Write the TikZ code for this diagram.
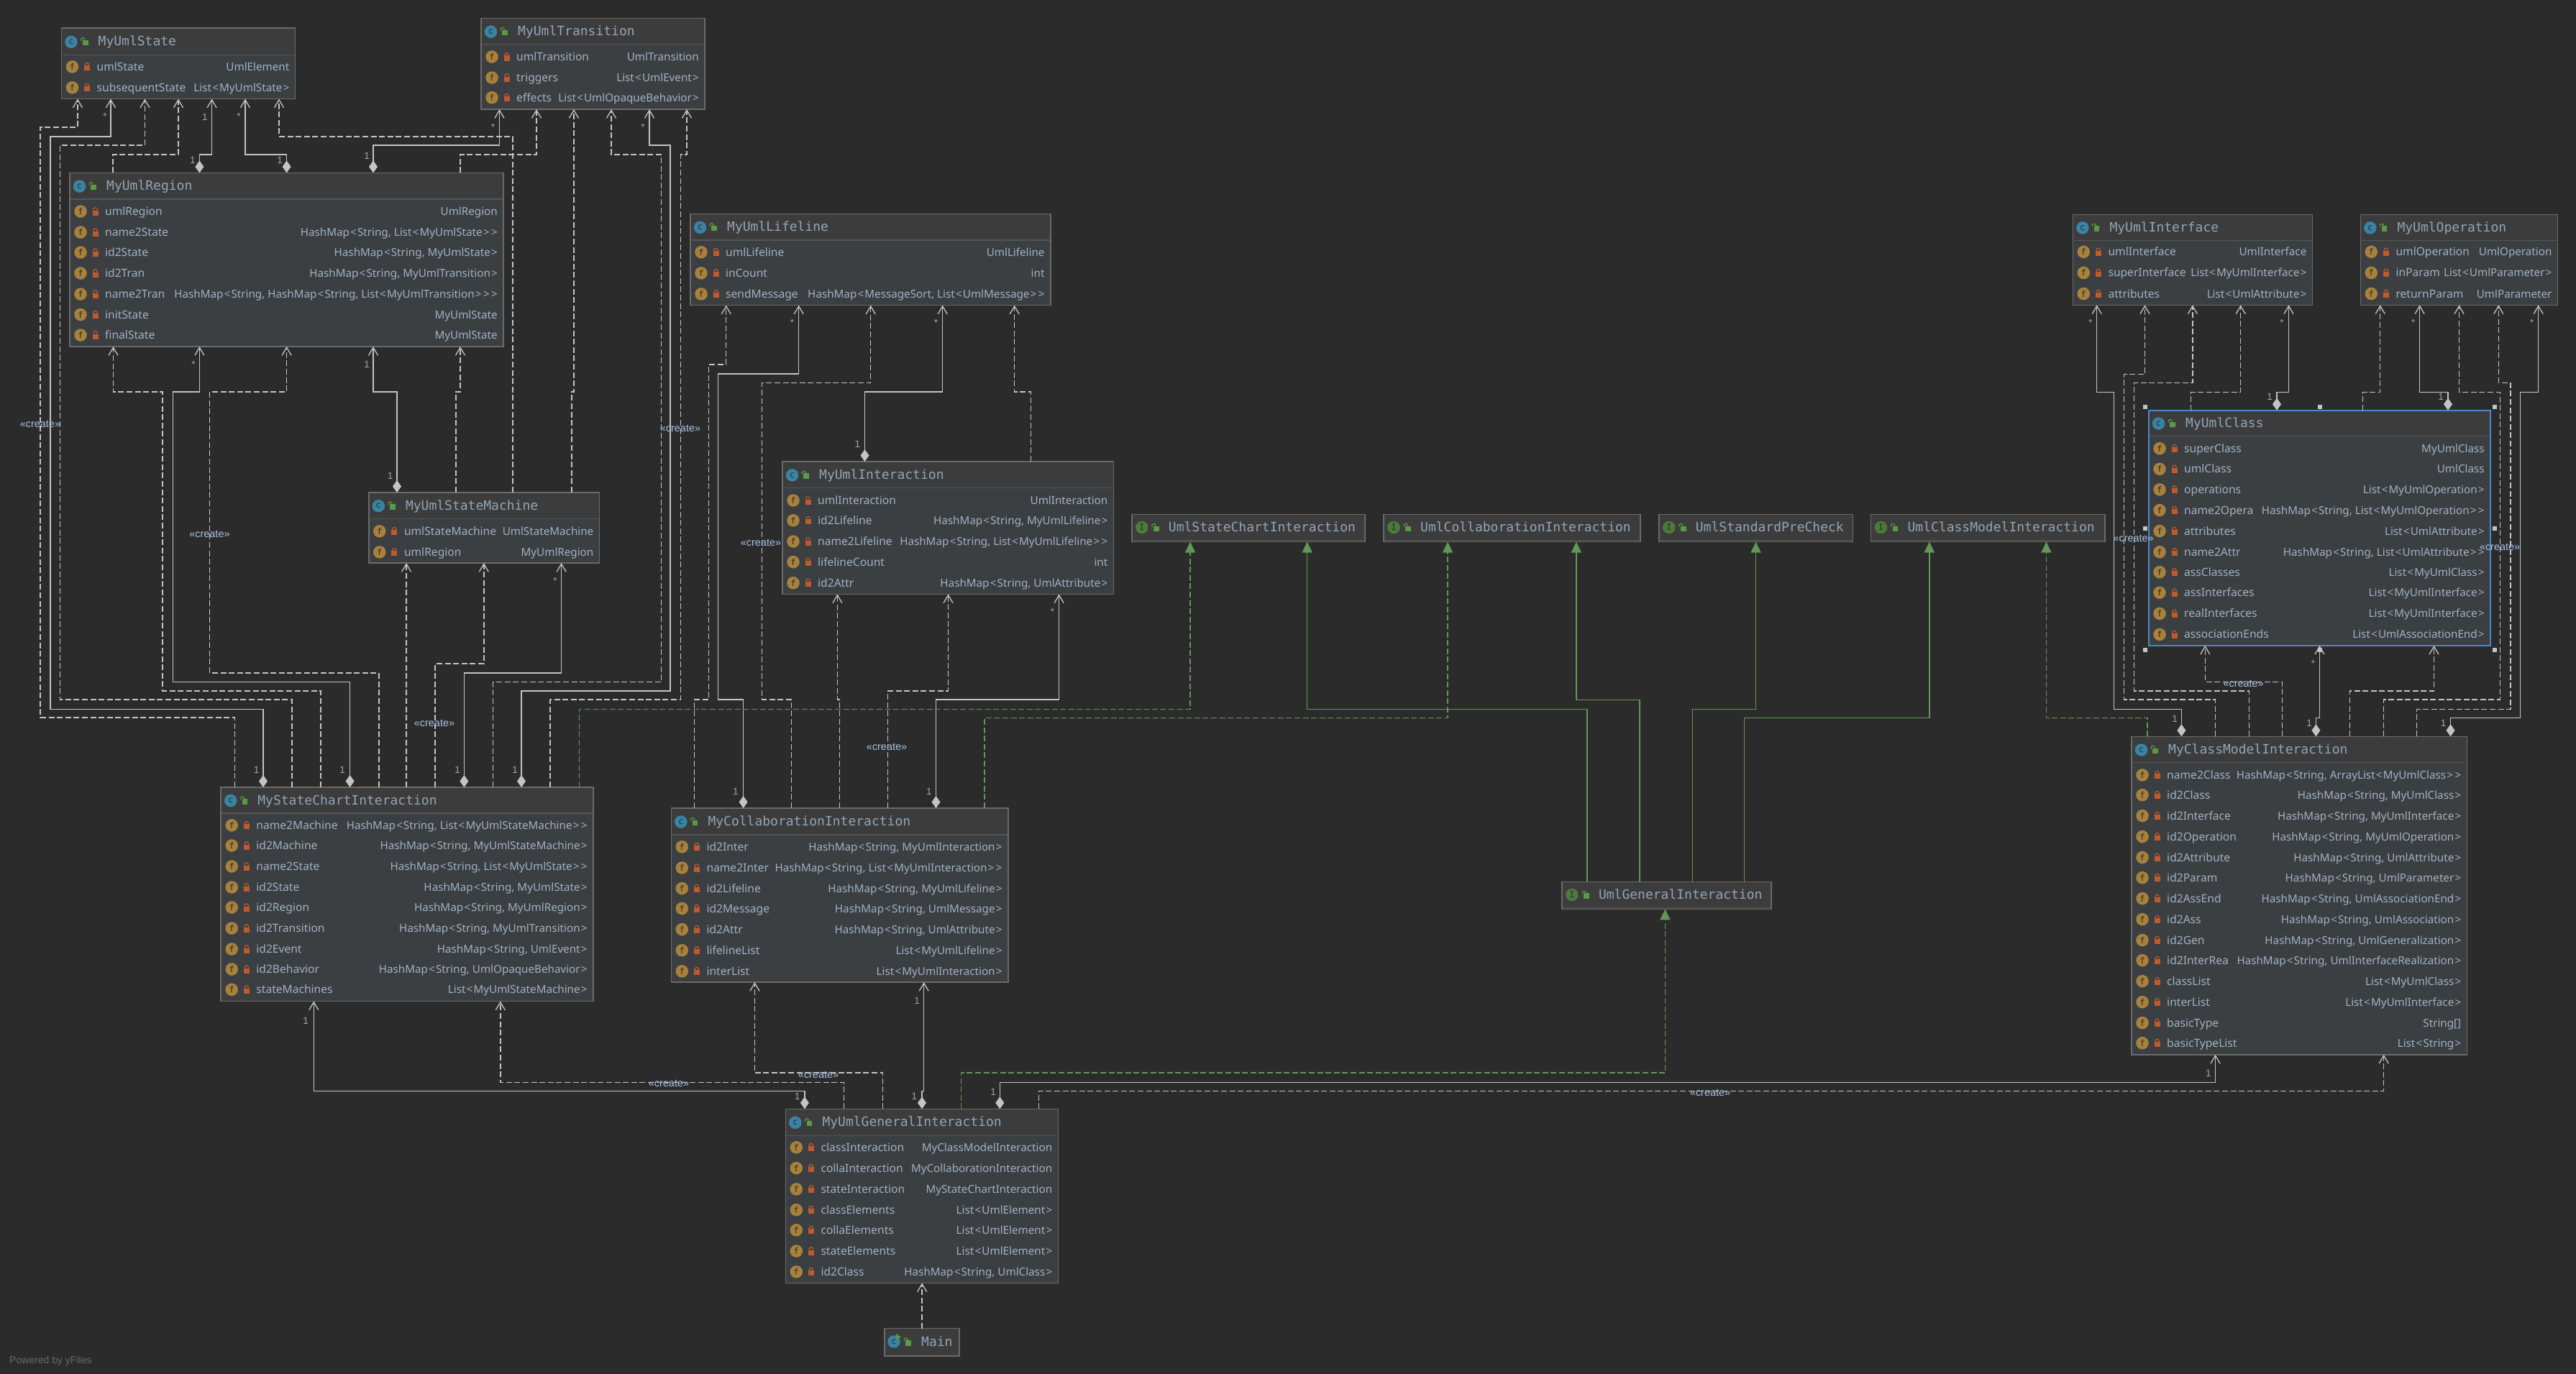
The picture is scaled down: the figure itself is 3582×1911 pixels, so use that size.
\documentclass[tikz,border=0pt]{standalone}
\usepackage{fontspec}
\setmainfont{Noto Sans}
\newfontfamily\monof{DejaVu Sans Mono}
\newfontfamily\libf{Liberation Sans}
\usetikzlibrary{arrows.meta}
\XeTeXinterchartokenstate=1
\newXeTeXintercharclass\brkclass
\XeTeXcharclass`\<=\brkclass
\XeTeXcharclass`\>=\brkclass
\XeTeXinterchartoks 0 \brkclass={\kern1.2pt}
\XeTeXinterchartoks \brkclass 0={\kern1.2pt}
\XeTeXinterchartoks \brkclass \brkclass={\kern2.4pt}
\definecolor{bgc}{HTML}{2B2B2B}
\definecolor{bodyc}{HTML}{3B3F42}
\definecolor{headc}{HTML}{3C3C3C}
\definecolor{edgec}{HTML}{6A6A6A}
\definecolor{sepc}{HTML}{555555}
\definecolor{textc}{HTML}{A2B2C2}
\definecolor{titlec}{HTML}{92A6B8}
\definecolor{linec}{HTML}{C4C4C4}
\definecolor{greenc}{HTML}{629755}
\definecolor{ficonc}{HTML}{A8823C}
\definecolor{ciconc}{HTML}{3A84A3}
\definecolor{iiconc}{HTML}{4D7A3C}
\definecolor{lockc}{HTML}{BF5A2D}
\definecolor{ulockc}{HTML}{5B9A44}
\definecolor{selc}{HTML}{4A88C7}
\definecolor{crc}{HTML}{A9C6E6}
\definecolor{multc}{HTML}{A5A5A5}
\newcounter{fld}
\tikzset{
  classn/.style={draw=edgec,line width=1.6pt,fill=bodyc,inner sep=0pt,outer sep=0pt,rectangle},
  selbox/.style={draw=selc},
  titlen/.style={anchor=base west,inner sep=0pt,text=titlec,font=\monof\fontsize{18}{20}\selectfont},
  flabel/.style={anchor=base west,inner sep=0pt,text=textc,font=\fontsize{15.6}{18}\selectfont},
  ftype/.style={anchor=base east,inner sep=0pt,text=textc,font=\fontsize{15.2}{18}\selectfont},
  iconn/.style={circle,inner sep=0pt,minimum size=17.5pt,text=bgc,font=\monof\fontsize{12}{12}\selectfont},
  multn/.style={inner sep=0pt,text=multc,font=\libf\fontsize{13.5}{14}\selectfont},
  crn/.style={inner sep=0pt,text=crc,font=\libf\fontsize{14.4}{15}\selectfont},
  conbase/.style={line width=1.4pt,line join=miter},
  assoc/.style={conbase,draw=linec,{Diamond[length=17pt,width=12pt,fill=linec]}-{Straight Barb[length=11pt,width=13pt,line width=1.3pt]}},
  dep/.style={conbase,draw=linec,dash pattern=on 8pt off 3.6pt,-{Straight Barb[length=11pt,width=13pt,line width=1.3pt]}},
  impl/.style={conbase,draw=greenc,-{Triangle[length=15pt,width=14pt,fill=greenc]}},
  real/.style={conbase,draw=greenc,dash pattern=on 8pt off 3.6pt,-{Triangle[length=15pt,width=14pt,fill=greenc]}},
  handlesq/.style={fill=linec,inner sep=0pt,minimum size=6pt,rectangle}
}
% open (green) lock beside a title
\newcommand{\openlock}[2]{%
  \fill[ulockc] ({#1-3.7},{#2-2}) rectangle ({#1+4},{#2+5.5});
  \draw[ulockc,line width=1.2pt] ({#1-1},{#2-2}) -- ({#1-1},{#2-3.5}) -- ({#1-2.5},{#2-5}) -- ({#1-4},{#2-5}) -- ({#1-5.7},{#2-3.5}) -- ({#1-5.7},{#2-1});
}
% closed (red) lock of a field
\newcommand{\closedlock}[2]{%
  \fill[lockc] ({#1-4},{#2-1.5}) rectangle ({#1+4},{#2+5.5});
  \draw[lockc,line width=1.2pt] ({#1-2.5},{#2-1.5}) -- ({#1-2.5},{#2-3.5}) -- ({#1-1.2},{#2-5}) -- ({#1+1.2},{#2-5}) -- ({#1+2.5},{#2-3.5}) -- ({#1+2.5},{#2-1.5});
}
% [options]{name}{x1}{y1}{x2}{y2}{y of header line}{title}
\newcommand{\classbox}[8][]{%
  \def\curx{#3}\def\curxr{#5}%
  \node[classn,#1,minimum width={(#5-#3)*1pt},minimum height={(#6-#4)*1pt}] (#2) at ({(#3+#5)/2},{(#4+#6)/2}) {};
  \fill[headc] ({#3+1},{#4+1}) rectangle ({#5-1},#7);
  \draw[sepc,line width=1.4pt] ({#3+1},#7) -- ({#5-1},#7);
  \node[iconn,fill=ciconc] (#2-icon) at ({#3+13.5},{(#4+#7)/2+.5}) {c};
  \openlock{#3+33}{(#4+#7)/2}
  \node[titlen] (#2-title) at ({#3+51},{(#4+#7)/2+6}) {#8};
}
% {name}{x1}{y1}{x2}{y2}{title}
\newcommand{\ifacebox}[6]{%
  \node[classn,minimum width={(#4-#2)*1pt},minimum height={(#5-#3)*1pt},fill=headc] (#1) at ({(#2+#4)/2},{(#3+#5)/2}) {};
  \draw[sepc,line width=1.8pt] ({#2+1},{#5-2}) -- ({#4-1},{#5-2});
  \node[iconn,fill=iiconc] (#1-icon) at ({#2+14},{(#3+#5)/2-1}) {I};
  \openlock{#2+34}{(#3+#5)/2-1}
  \node[titlen] (#1-title) at ({#2+51},{(#3+#5)/2+5}) {#6};
}
% {y}{label}{type}
\newcommand{\fieldrow}[3]{%
  \stepcounter{fld}%
  \node[iconn,fill=ficonc] (fi\thefld) at ({\curx+15},#1) {f};
  \closedlock{\curx+35.5}{#1}
  \node[flabel] (fl\thefld) at ({\curx+49},{#1+5.5}) {#2};
  \node[ftype] (ft\thefld) at ({\curxr-8},{#1+5.5}) {#3};
}
\newcommand{\mult}[3]{\stepcounter{fld}\node[multn] (m\thefld) at (#1,#2) {#3};}
\newcommand{\crt}[2]{\stepcounter{fld}\node[crn] (cr\thefld) at (#1,#2) {«create»};}
\begin{document}
\begin{tikzpicture}[x=1pt,y=-1pt]
\path[use as bounding box,fill=bgc] (0,0) rectangle (3582,1911);
% ---- classes
\classbox{st}{85.5}{39.3}{410.5}{137.5}{76.4}{MyUmlState}
\fieldrow{92.9}{umlState}{UmlElement}
\fieldrow{121.8}{subsequentState}{List<MyUmlState>}
\classbox{tr}{669}{25.4}{980}{152}{61.8}{MyUmlTransition}
\fieldrow{79}{umlTransition}{UmlTransition}
\fieldrow{108}{triggers}{List<UmlEvent>}
\fieldrow{135.7}{effects}{List<UmlOpaqueBehavior>}
\classbox{rg}{97}{240.4}{700}{482}{276.8}{MyUmlRegion}
\fieldrow{294}{umlRegion}{UmlRegion}
\fieldrow{323}{name2State}{HashMap<String, List<MyUmlState>>}
\fieldrow{351}{id2State}{HashMap<String, MyUmlState>}
\fieldrow{380}{id2Tran}{HashMap<String, MyUmlTransition>}
\fieldrow{409}{name2Tran}{HashMap<String, HashMap<String, List<MyUmlTransition>>>}
\fieldrow{437.5}{initState}{MyUmlState}
\fieldrow{466}{finalState}{MyUmlState}
\classbox{sm}{512.8}{685}{833.5}{783}{721.4}{MyUmlStateMachine}
\fieldrow{738.8}{umlStateMachine}{UmlStateMachine}
\fieldrow{767.9}{umlRegion}{MyUmlRegion}
\classbox{sc}{307.2}{1095}{824.8}{1392.5}{1131}{MyStateChartInteraction}
\fieldrow{1147.8}{name2Machine}{HashMap<String, List<MyUmlStateMachine>>}
\fieldrow{1176}{id2Machine}{HashMap<String, MyUmlStateMachine>}
\fieldrow{1205}{name2State}{HashMap<String, List<MyUmlState>>}
\fieldrow{1234}{id2State}{HashMap<String, MyUmlState>}
\fieldrow{1262}{id2Region}{HashMap<String, MyUmlRegion>}
\fieldrow{1291}{id2Transition}{HashMap<String, MyUmlTransition>}
\fieldrow{1320}{id2Event}{HashMap<String, UmlEvent>}
\fieldrow{1348}{id2Behavior}{HashMap<String, UmlOpaqueBehavior>}
\fieldrow{1376.3}{stateMachines}{List<MyUmlStateMachine>}
\classbox{ll}{960}{297.5}{1460.7}{424.6}{334}{MyUmlLifeline}
\fieldrow{350.7}{umlLifeline}{UmlLifeline}
\fieldrow{379.8}{inCount}{int}
\fieldrow{408.9}{sendMessage}{HashMap<MessageSort, List<UmlMessage>>}
\classbox{inter}{1088}{642}{1548.5}{826.4}{678.7}{MyUmlInteraction}
\fieldrow{696}{umlInteraction}{UmlInteraction}
\fieldrow{723.8}{id2Lifeline}{HashMap<String, MyUmlLifeline>}
\fieldrow{753}{name2Lifeline}{HashMap<String, List<MyUmlLifeline>>}
\fieldrow{781.6}{lifelineCount}{int}
\fieldrow{810.7}{id2Attr}{HashMap<String, UmlAttribute>}
\classbox{co}{933.3}{1124}{1401.7}{1366}{1161}{MyCollaborationInteraction}
\fieldrow{1177.8}{id2Inter}{HashMap<String, MyUmlInteraction>}
\fieldrow{1207}{name2Inter}{HashMap<String, List<MyUmlInteraction>>}
\fieldrow{1235.6}{id2Lifeline}{HashMap<String, MyUmlLifeline>}
\fieldrow{1263.5}{id2Message}{HashMap<String, UmlMessage>}
\fieldrow{1292.6}{id2Attr}{HashMap<String, UmlAttribute>}
\fieldrow{1321.7}{lifelineList}{List<MyUmlLifeline>}
\fieldrow{1350.8}{interList}{List<MyUmlInteraction>}
\classbox{if}{2882.3}{298.3}{3215.5}{424.3}{334.5}{MyUmlInterface}
\fieldrow{350.3}{umlInterface}{UmlInterface}
\fieldrow{379.4}{superInterface}{List<MyUmlInterface>}
\fieldrow{408.5}{attributes}{List<UmlAttribute>}
\classbox{op}{3282.3}{298.3}{3556.6}{424.3}{334.5}{MyUmlOperation}
\fieldrow{350.3}{umlOperation}{UmlOperation}
\fieldrow{379.4}{inParam}{List<UmlParameter>}
\fieldrow{408.5}{returnParam}{UmlParameter}
\classbox[selbox]{cl}{2988}{570.7}{3462.8}{897.8}{606.4}{MyUmlClass}
\fieldrow{623.8}{superClass}{MyUmlClass}
\fieldrow{652.3}{umlClass}{UmlClass}
\fieldrow{680.9}{operations}{List<MyUmlOperation>}
\fieldrow{709.5}{name2Opera}{HashMap<String, List<MyUmlOperation>>}
\fieldrow{738.6}{attributes}{List<UmlAttribute>}
\fieldrow{767.7}{name2Attr}{HashMap<String, List<UmlAttribute>>}
\fieldrow{795.7}{assClasses}{List<MyUmlClass>}
\fieldrow{824.3}{assInterfaces}{List<MyUmlInterface>}
\fieldrow{853.4}{realInterfaces}{List<MyUmlInterface>}
\fieldrow{882.4}{associationEnds}{List<UmlAssociationEnd>}
\classbox{cm}{2964}{1024.3}{3430.4}{1466.8}{1060.7}{MyClassModelInteraction}
\fieldrow{1077.9}{name2Class}{HashMap<String, ArrayList<MyUmlClass>>}
\fieldrow{1105.7}{id2Class}{HashMap<String, MyUmlClass>}
\fieldrow{1134.6}{id2Interface}{HashMap<String, MyUmlInterface>}
\fieldrow{1163.6}{id2Operation}{HashMap<String, MyUmlOperation>}
\fieldrow{1192.5}{id2Attribute}{HashMap<String, UmlAttribute>}
\fieldrow{1220.7}{id2Param}{HashMap<String, UmlParameter>}
\fieldrow{1249.6}{id2AssEnd}{HashMap<String, UmlAssociationEnd>}
\fieldrow{1278.6}{id2Ass}{HashMap<String, UmlAssociation>}
\fieldrow{1307.5}{id2Gen}{HashMap<String, UmlGeneralization>}
\fieldrow{1335.7}{id2InterRea}{HashMap<String, UmlInterfaceRealization>}
\fieldrow{1364.6}{classList}{List<MyUmlClass>}
\fieldrow{1393.6}{interList}{List<MyUmlInterface>}
\fieldrow{1422.5}{basicType}{String[]}
\fieldrow{1450.7}{basicTypeList}{List<String>}
\classbox{gi}{1092.3}{1542.4}{1471.4}{1784.4}{1579.4}{MyUmlGeneralInteraction}
\fieldrow{1595.8}{classInteraction}{MyClassModelInteraction}
\fieldrow{1624.6}{collaInteraction}{MyCollaborationInteraction}
\fieldrow{1653.9}{stateInteraction}{MyStateChartInteraction}
\fieldrow{1682.7}{classElements}{List<UmlElement>}
\fieldrow{1710.8}{collaElements}{List<UmlElement>}
\fieldrow{1740}{stateElements}{List<UmlElement>}
\fieldrow{1768.8}{id2Class}{HashMap<String, UmlClass>}
% Main (no fields, runnable icon)
\node[classn,fill=headc,minimum width=104.2pt,minimum height=38.2pt] (main) at (1282.1,1866.6) {};
\node[iconn,fill=ciconc] (main-icon) at (1243,1866) {c};
\fill[ulockc] (1246,1855) -- (1253,1859.5) -- (1246,1864) -- cycle;
\openlock{1263}{1866}
\node[titlen] (main-title) at (1281,1872) {Main};
% ---- interfaces
\ifacebox{usc}{1573.7}{715.6}{1898}{753.5}{UmlStateChartInteraction}
\ifacebox{ucol}{1924}{715.6}{2281}{753.5}{UmlCollaborationInteraction}
\ifacebox{upre}{2306.7}{715.6}{2576.6}{753.5}{UmlStandardPreCheck}
\ifacebox{ucm}{2601.4}{715.6}{2926.8}{753.5}{UmlClassModelInteraction}
\ifacebox{ug}{2171.8}{1226.5}{2462.7}{1264.4}{UmlGeneralInteraction}
% ---- connectors to MyUmlState
\draw[dep] (sc.north -| 326.5,0) |- (56,998) |- (108,177) -- (st.south -| 108,0);
\draw[assoc] (sc.north -| 366,0) |- (70,986.6) |- (154,190) -- (st.south -| 154,0);
\draw[dep] (sc.north -| 406,0) |- (83.5,973) |- (201.5,202) -- (st.south -| 201.5,0);
\draw[dep] (rg.north -| 157,0) |- (248,215) -- (st.south -| 248,0);
\draw[assoc] (rg.north -| 277.4,0) |- (294.6,215) -- (st.south -| 294.6,0);
\draw[assoc] (rg.north -| 398.6,0) |- (341,215) -- (st.south -| 341,0);
\draw[dep] (sm.north -| 713,0) |- (388,190) -- (st.south -| 388,0);
% ---- to MyUmlTransition
\draw[assoc] (rg.north -| 519,0) |- (694.5,202) -- (tr.south -| 694.5,0);
\draw[dep] (rg.north -| 640,0) |- (746,215) -- (tr.south -| 746,0);
\draw[dep] (sm.north -| 795,0) |- (798,545) -- (tr.south -| 798,0);
\draw[dep] (sc.north -| 685.6,0) |- (919.6,948.7) |- (850,215) -- (tr.south -| 850,0);
\draw[assoc] (sc.north -| 725,0) |- (932,961) |- (903,202) -- (tr.south -| 903,0);
\draw[dep] (sc.north -| 765,0) |- (946.4,973) |- (955,215) -- (tr.south -| 955,0);
% ---- to MyUmlRegion
\draw[dep] (sc.north -| 446,0) |- (226,961) |- (157.5,545) -- (rg.south -| 157.5,0);
\draw[assoc] (sc.north -| 486.6,0) |- (240.4,948.7) |- (277.4,545) -- (rg.south -| 277.4,0);
\draw[dep] (sc.north -| 526.8,0) |- (291.5,936) |- (398.6,545) -- (rg.south -| 398.6,0);
\draw[assoc] (sm.north -| 552,0) |- (519,545) -- (rg.south -| 519,0);
\draw[dep] (sm.north -| 634,0) |- (640,545) -- (rg.south -| 640,0);
% ---- to MyUmlStateMachine
\draw[dep] (sc.north -| 565,0) -- (sm.south -| 565,0);
\draw[dep] (sc.north -| 605,0) |- (672.8,923) -- (sm.south -| 672.8,0);
\draw[assoc] (sc.north -| 645.4,0) |- (780.6,936) -- (sm.south -| 780.6,0);
% ---- to MyUmlLifeline
\draw[dep] (co.north -| 965.4,0) |- (985.7,973) |- (1009.7,507) -- (ll.south -| 1009.7,0);
\draw[assoc] (co.north -| 1033.6,0) |- (998.7,973) |- (1110.7,520) -- (ll.south -| 1110.7,0);
\draw[dep] (co.north -| 1100.5,0) |- (1059.7,973) |- (1210.7,532.5) -- (ll.south -| 1210.7,0);
\draw[assoc] (inter.north -| 1202.5,0) |- (1310.7,545) -- (ll.south -| 1310.7,0);
\draw[dep] (inter.north -| 1433.7,0) |- (1410.7,545) -- (ll.south -| 1410.7,0);
% ---- to MyUmlInteraction
\draw[dep] (co.north -| 1167.5,0) |- (1164.4,973) -- (inter.south -| 1164.4,0);
\draw[dep] (co.north -| 1234.5,0) |- (1318.5,961) -- (inter.south -| 1318.5,0);
\draw[assoc] (co.north -| 1301.5,0) |- (1472.6,973) -- (inter.south -| 1472.6,0);
% ---- green
\draw[real] (sc.north -| 805.5,0) |- (1655,986.4) -- (usc.south -| 1655,0);
\draw[real] (co.north -| 1368.8,0) |- (2013,998.3) -- (ucol.south -| 2013,0);
\draw[impl] (ug.north -| 2207,0) |- (1817.7,986.4) -- (usc.south -| 1817.7,0);
\draw[impl] (ug.north -| 2280,0) |- (2191.9,973.4) -- (ucol.south -| 2191.9,0);
\draw[impl] (ug.north -| 2353.6,0) |- (2441.6,986.4) -- (upre.south -| 2441.6,0);
\draw[impl] (ug.north -| 2425.4,0) |- (2682.8,998.3) -- (ucm.south -| 2682.8,0);
\draw[real] (cm.north -| 2986,0) |- (2845.4,998.3) -- (ucm.south -| 2845.4,0);
\draw[real] (gi.north -| 1336.7,0) |- (2315.4,1492) -- (ug.south -| 2315.4,0);
% ---- to MyUmlInterface
\draw[assoc] (cm.north -| 3033.4,0) |- (2939.7,986.5) |- (2915.7,545.7) -- (if.south -| 2915.7,0);
\draw[dep] (cm.north -| 3080.3,0) |- (2953.6,972.8) |- (2982.5,520.7) -- (if.south -| 2982.5,0);
\draw[dep] (cm.north -| 3127.7,0) |- (2967.6,961) |- (3048.9,532.4) -- (if.south -| 3048.9,0);
\draw[dep] (cl.north -| 3046.4,0) |- (3115.7,545.7) -- (if.south -| 3115.7,0);
\draw[assoc] (cl.north -| 3166,0) |- (3182.5,545.7) -- (if.south -| 3182.5,0);
% ---- to MyUmlClass
\draw[dep] (cm.north -| 3173.6,0) |- (3066.3,948.3) -- (cl.south -| 3066.3,0);
\draw[assoc] (cm.north -| 3220.4,0) |- (3225.4,998.3) -- (cl.south -| 3225.4,0);
\draw[dep] (cm.north -| 3267.3,0) |- (3384.5,961) -- (cl.south -| 3384.5,0);
% ---- to MyUmlOperation
\draw[dep] (cl.north -| 3285.3,0) |- (3309.7,545.7) -- (op.south -| 3309.7,0);
\draw[assoc] (cl.north -| 3404,0) |- (3364.6,545.7) -- (op.south -| 3364.6,0);
\draw[dep] (cm.north -| 3314.7,0) |- (3476.3,972.8) |- (3419.5,545.7) -- (op.south -| 3419.5,0);
\draw[dep] (cm.north -| 3360.6,0) |- (3490.8,986.5) |- (3474.3,532.4) -- (op.south -| 3474.3,0);
\draw[assoc] (cm.north -| 3407.5,0) |- (3504.7,998.3) |- (3529.7,545.7) -- (op.south -| 3529.7,0);
% ---- bottom
\draw[dep] (main.north) -- (gi.south -| main.north);
\draw[dep] (gi.north -| 1227.6,0) |- (1049.5,1492) -- (co.south -| 1049.5,0);
\draw[assoc] (gi.north -| 1282,0) |- (1284.7,1517.5) -- (co.south -| 1284.7,0);
\draw[assoc] (gi.north -| 1118.9,0) |- (436.3,1517.5) -- (sc.south -| 436.3,0);
\draw[dep] (gi.north -| 1173.5,0) |- (695.8,1505.4) -- (sc.south -| 695.8,0);
\draw[assoc] (gi.north -| 1390.3,0) |- (3080.5,1505.4) -- (cm.south -| 3080.5,0);
\draw[dep] (gi.north -| 1444.4,0) |- (3314.7,1517.5) -- (cm.south -| 3314.7,0);
% ---- selection handles of MyUmlClass
\node[handlesq] (h1) at (2983,565.6) {};
\node[handlesq] (h2) at (3226,565.6) {};
\node[handlesq] (h3) at (3468.8,565.6) {};
\node[handlesq] (h4) at (2983,734.5) {};
\node[handlesq] (h5) at (3468.8,734.5) {};
\node[handlesq] (h6) at (2983,903.9) {};
\node[handlesq] (h7) at (3226,903.9) {};
\node[handlesq] (h8) at (3468.8,903.9) {};
% ---- multiplicities
\mult{146}{162}{*}\mult{285}{163}{1}\mult{332}{162}{*}\mult{268}{222.5}{1}\mult{389}{222.5}{1}
\mult{685.6}{177}{*}\mult{894}{177}{*}\mult{510}{217}{1}
\mult{269}{507}{*}\mult{510}{507}{1}
\mult{542.7}{661.6}{1}\mult{772}{808}{*}
\mult{356.5}{1070.8}{1}\mult{476}{1070.8}{1}\mult{636}{1070.8}{1}\mult{716}{1070.8}{1}
\mult{425}{1420}{1}
\mult{1101.5}{449}{*}\mult{1301.5}{449}{*}\mult{1192.3}{617.8}{1}
\mult{1463.4}{851}{*}
\mult{1022.8}{1101}{1}\mult{1291.9}{1101}{1}\mult{1275}{1391.8}{1}
\mult{2906.7}{449}{*}\mult{3173}{449}{*}\mult{3156}{552.3}{1}
\mult{3355.6}{449}{*}\mult{3520.7}{449}{*}\mult{3394}{552.3}{1}
\mult{3216.5}{923}{*}
\mult{3024}{999.8}{1}\mult{3211}{1006}{1}\mult{3397.5}{1006}{1}
\mult{1271.4}{1525}{1}\mult{1108.7}{1525}{1}\mult{1381}{1518.6}{1}\mult{3070.8}{1492.5}{1}
% ---- create labels
\crt{56}{590}\crt{291.5}{743}\crt{604}{1006}\crt{946}{596}
\crt{1058}{755}\crt{1233}{1039}\crt{1138}{1495}\crt{930}{1507}\crt{2378}{1520}
\crt{3119.7}{950.8}\crt{2966.6}{748.8}\crt{3476}{761}
% ---- credit
\node[anchor=base west,inner sep=0pt,text=edgec,font=\libf\fontsize{14}{15}\selectfont] (credit) at (13,1896) {Powered by yFiles};
\end{tikzpicture}
\end{document}
